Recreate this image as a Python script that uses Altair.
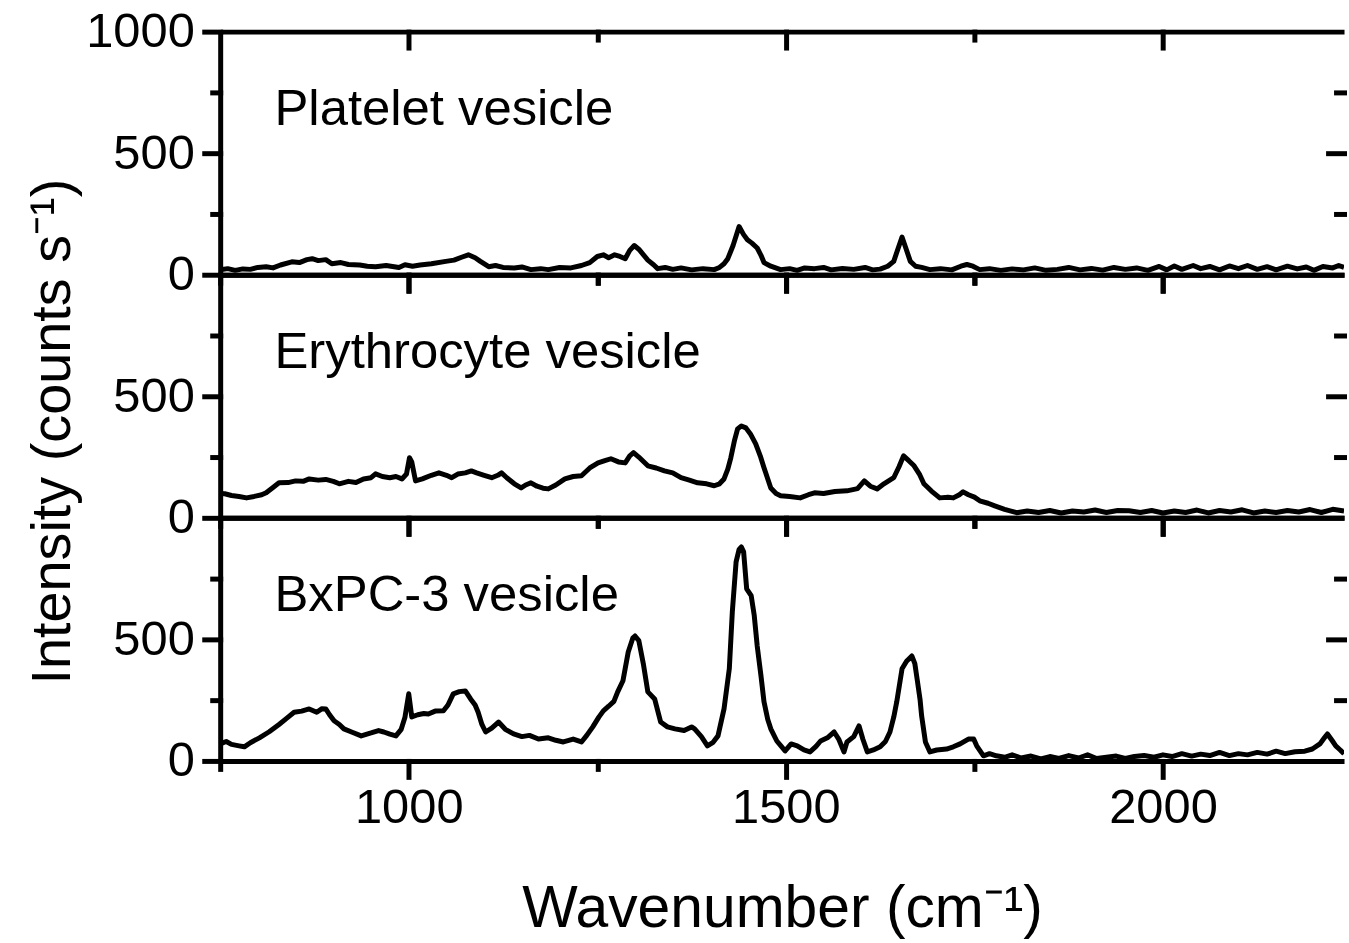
import altair as alt
import pandas as pd

FONT = "Liberation Sans"

# ---------------- data ----------------
wn_platelet = [750, 760, 770, 780, 790, 800, 811, 820, 830, 845, 855, 865, 872, 880, 890, 898, 910, 920, 935, 945,
               956, 970, 987, 995, 1005, 1015, 1030, 1049, 1060, 1070, 1079, 1088, 1095, 1106, 1115, 1125, 1140, 1150,
               1162, 1175, 1185, 1200, 1215, 1229, 1240, 1250, 1258, 1265, 1273, 1280, 1287, 1293, 1299, 1305, 1317,
               1325, 1330, 1340, 1350, 1361, 1375, 1390, 1405, 1412, 1418, 1423, 1430, 1438, 1444, 1449, 1455, 1462,
               1467, 1471, 1480, 1493, 1505, 1515, 1525, 1538, 1550, 1560, 1575, 1590, 1605, 1615, 1625, 1635, 1643,
               1649, 1654, 1659, 1665, 1672, 1680, 1691, 1705, 1720, 1732, 1740, 1748, 1757, 1770, 1785, 1800, 1815,
               1830, 1845, 1860, 1875, 1890, 1905, 1920, 1935, 1950, 1965, 1980, 1995, 2005, 2015, 2025, 2040, 2050,
               2062, 2075, 2088, 2100, 2112, 2125, 2138, 2150, 2165, 2178, 2190, 2200, 2212, 2225, 2233, 2240]
int_platelet = [20, 25, 18, 24, 22, 30, 33, 28, 40, 53, 50, 62, 66, 58, 62, 45, 50, 42, 40, 35,
                33, 38, 30, 41, 35, 40, 45, 55, 60, 72, 82, 70, 55, 33, 38, 30, 28, 32,
                21, 25, 21, 30, 28, 38, 50, 75, 82, 70, 82, 75, 66, 100, 120, 105, 60,
                40, 25, 30, 22, 28, 20, 25, 21, 30, 45, 66, 120, 198, 165, 144, 130, 110,
                80, 50, 35, 21, 25, 18, 28, 25, 30, 20, 26, 22, 30, 20, 23, 35, 55,
                110, 155, 110, 55, 35, 30, 21, 25, 20, 35, 42, 35, 21, 25, 18, 24, 20,
                28, 18, 22, 30, 20, 26, 19, 30, 22, 28, 18, 34, 20, 36, 22, 38, 25,
                34, 20, 36, 25, 38, 22, 33, 20, 35, 24, 32, 18, 34, 28, 38, 30]

wn_erythro = [750, 756, 765, 775, 785, 795, 805, 811, 820, 828, 840, 850, 860, 868, 880, 890, 900, 908, 920, 930,
              940, 950, 956, 965, 975, 983, 991, 997, 1001, 1004, 1009, 1018, 1030, 1040, 1050, 1057, 1065, 1075,
              1083, 1090, 1100, 1110, 1118, 1123, 1130, 1140, 1149, 1155, 1162, 1170, 1178, 1185, 1195, 1207, 1218,
              1229, 1240, 1251, 1260, 1268, 1278, 1287, 1293, 1298, 1305, 1317, 1328, 1339, 1350, 1361, 1372, 1383,
              1395, 1405, 1412, 1418, 1423, 1427, 1432, 1436, 1441, 1447, 1453, 1460, 1466, 1471, 1476, 1480, 1487,
              1493, 1505, 1519, 1530, 1538, 1550, 1565, 1581, 1595, 1604, 1612, 1621, 1630, 1643, 1650, 1656, 1663,
              1670, 1677, 1683, 1693, 1704, 1715, 1722, 1730, 1735, 1742, 1750, 1757, 1768, 1777, 1790, 1806, 1820,
              1835, 1850, 1865, 1880, 1895, 1910, 1925, 1940, 1955, 1970, 1985, 2000, 2015, 2030, 2045, 2060, 2075,
              2090, 2105, 2120, 2135, 2150, 2165, 2180, 2195, 2210, 2225, 2240]
int_erythro = [100, 99, 92, 88, 82, 88, 95, 103, 125, 144, 145, 152, 150, 160, 155, 158, 150, 140, 150, 145,
               160, 165, 181, 170, 165, 170, 160, 180, 247, 230, 152, 160, 175, 185, 175, 165, 180, 185,
               193, 185, 175, 165, 175, 185, 165, 140, 123, 135, 144, 130, 122, 119, 135, 160, 170,
               173, 205, 226, 235, 243, 230, 226, 255, 268, 250, 214, 205, 193, 185, 165, 155, 144,
               140, 132, 140, 160, 200, 247, 320, 366, 378, 370, 345, 304, 255, 206, 160, 123, 100,
               91, 88, 82, 95, 103, 100, 108, 111, 120, 152, 130, 119, 140, 165, 210, 255, 235,
               214, 180, 140, 110, 82, 85, 82, 95, 107, 95, 85, 70, 60, 49, 35, 21, 28,
               22, 30, 20, 28, 24, 32, 22, 30, 29, 22, 30, 20, 28, 22, 32, 20, 30,
               24, 33, 20, 28, 22, 30, 24, 34, 22, 35, 28]

wn_bxpc3 = [750, 758, 765, 775, 782, 790, 802, 815, 828, 838, 848, 858, 868, 878, 885, 890, 895, 901, 908, 914,
            925, 937, 950, 960, 967, 975, 983, 990, 995, 1000, 1004, 1012, 1020, 1026, 1035, 1046, 1052, 1059,
            1067, 1075, 1082, 1088, 1092, 1097, 1102, 1110, 1119, 1128, 1139, 1150, 1160, 1172, 1185, 1195, 1205,
            1218, 1229, 1236, 1244, 1252, 1258, 1265, 1272, 1277, 1284, 1291, 1297, 1300, 1305, 1311, 1317, 1326,
            1334, 1343, 1353, 1365, 1375, 1379, 1388, 1396, 1403, 1410, 1418, 1425, 1429, 1434, 1438, 1441, 1444,
            1448, 1454, 1458, 1462, 1467, 1471, 1476, 1480, 1488, 1494, 1499, 1507, 1515, 1524, 1532, 1540, 1546,
            1555, 1564, 1570, 1577, 1581, 1590, 1597, 1602, 1608, 1616, 1625, 1632, 1638, 1643, 1647, 1654, 1660,
            1667, 1671, 1674, 1678, 1680, 1685, 1691, 1700, 1713, 1722, 1731, 1742, 1749, 1753, 1762, 1770, 1779,
            1790, 1800, 1812, 1825, 1838, 1850, 1862, 1875, 1888, 1900, 1912, 1925, 1938, 1950, 1962, 1975, 1988,
            2000, 2012, 2025, 2038, 2050, 2062, 2075, 2088, 2100, 2112, 2125, 2138, 2150, 2162, 2175, 2188, 2198,
            2208, 2214, 2218, 2224, 2229, 2235, 2240]
int_bxpc3 = [70, 80, 68, 62, 58, 75, 95, 120, 150, 175, 200, 205, 214, 200, 215, 214, 190, 165, 150, 132,
             118, 103, 115, 125, 119, 110, 103, 130, 180, 276, 181, 190, 195, 193, 205, 206, 230, 276,
             285, 288, 255, 230, 200, 150, 119, 135, 160, 130, 111, 100, 105, 90, 95, 85, 78,
             90, 78, 105, 140, 180, 206, 225, 245, 284, 330, 448, 505, 514, 495, 400, 284, 255,
             160, 140, 132, 125, 140, 132, 100, 62, 75, 103, 214, 379, 613, 819, 870, 880, 860,
             708, 680, 600, 473, 350, 243, 170, 132, 82, 60, 41, 70, 62, 45, 37, 60, 82,
             95, 119, 90, 37, 78, 100, 144, 90, 37, 45, 58, 80, 119, 180, 243, 379, 410,
             432, 400, 337, 250, 185, 78, 37, 45, 49, 58, 70, 90, 90, 62, 21, 30, 21,
             15, 25, 12, 20, 8, 18, 10, 22, 12, 25, 10, 15, 20, 10, 18, 22, 15,
             25, 18, 30, 20, 28, 22, 35, 22, 30, 25, 35, 28, 40, 30, 38, 40, 49,
             70, 95, 111, 85, 62, 45, 29]

panel_names = ["Platelet vesicle", "Erythrocyte vesicle", "BxPC-3 vesicle"]
label_x = [822, 822, 822]
label_y = [615, 615, 615]

x_major = [1000, 1500, 2000]
x_minor = [750, 1250, 1750]
XDOM = [750, 2240]
YDOM = [0, 1000]

W = 1128
H = 244


def ax(**kw):
    base = dict(grid=False, labelFont=FONT, labelColor="black", titleFont=FONT, titleColor="black",
                titleFontWeight="normal", tickColor="black", tickWidth=5, domainColor="black",
                domainWidth=5, tickCap="square", format="d")
    base.update(kw)
    return alt.Axis(**base)


def make_panel(i):
    name = panel_names[i]
    wn, it = [(wn_platelet, int_platelet), (wn_erythro, int_erythro), (wn_bxpc3, int_bxpc3)][i]
    df = pd.DataFrame({"x": wn, "y": it})
    first = i == 0
    last = i == 2
    xs = alt.Scale(domain=XDOM, nice=False, zero=False)
    ys = alt.Scale(domain=YDOM, nice=False, zero=False)

    # main spectrum with bottom/left major axes
    xkw = dict(orient="bottom", values=x_major, tickSize=16, domain=True, labels=last,
               labelFontSize=49, labelPadding=7)
    if last:
        xkw.update(titleFontSize=59, titleBaseline="alphabetic", titleY=166)
    ykw = dict(orient="left", values=([0, 500, 1000] if first else [0, 500]), tickSize=16, domain=True,
               labelFontSize=49, labelPadding=10)
    if i == 1:
        ykw.update(titleFontSize=56, titleAngle=270, titleX=-151, titleY=157, titleAlign="center",
                   titleBaseline="alphabetic")
    line = alt.Chart(df).mark_line(color="black", strokeWidth=5, clip=True, strokeJoin="round").encode(
        x=alt.X("x:Q", scale=xs, axis=ax(**xkw), title=("Wavenumber (cm⁻¹)" if last else None)),
        y=alt.Y("y:Q", scale=ys, axis=ax(**ykw), title=("Intensity (counts s⁻¹)" if i == 1 else None)),
    )

    inv = alt.Chart(df).mark_point(opacity=0, size=1)

    minor_out = inv.encode(
        x=alt.X("x:Q", scale=xs, title=None,
                axis=ax(orient="bottom", values=x_minor, tickSize=8, domain=False, labels=False)),
        y=alt.Y("y:Q", scale=ys, title=None,
                axis=ax(orient="left", values=[250, 750], tickSize=8, domain=False, labels=False)),
    )
    major_in = inv.encode(
        x=alt.X("x:Q", scale=xs, title=None,
                axis=ax(orient="top", values=x_major, tickSize=16, offset=-16, domain=False, labels=False)),
        y=alt.Y("y:Q", scale=ys, title=None,
                axis=ax(orient="right", values=[500], tickSize=16, offset=-16, domain=False, labels=False)),
    )
    minor_in = inv.encode(
        x=alt.X("x:Q", scale=xs, title=None,
                axis=ax(orient="top", values=[1250, 1750], tickSize=8, offset=-8, domain=False, labels=False)),
        y=alt.Y("y:Q", scale=ys, title=None,
                axis=ax(orient="right", values=[250, 750], tickSize=8, offset=-8, domain=False, labels=False)),
    )
    top_border = inv.encode(
        x=alt.X("x:Q", scale=xs, title=None,
                axis=ax(orient="top", values=x_major, ticks=False, domain=True, labels=False)),
        y=alt.Y("y:Q", scale=ys, axis=None),
    )

    lab_df = pd.DataFrame({"x": [label_x[i]], "y": [label_y[i]], "t": [name]})
    text = alt.Chart(lab_df).mark_text(align="left", baseline="alphabetic", font=FONT, fontSize=51,
                                       color="black").encode(
        x=alt.X("x:Q", scale=xs, axis=None),
        y=alt.Y("y:Q", scale=ys, axis=None),
        text="t:N",
    )

    return alt.layer(line, minor_out, major_in, minor_in, top_border, text).resolve_axis(
        x="independent", y="independent").properties(width=W, height=H)


chart = alt.vconcat(make_panel(0), make_panel(1), make_panel(2), spacing=0, bounds="flush").properties(
    padding={"left": 24, "top": 5, "right": 0, "bottom": 0},
    background="white",
).configure_view(stroke="transparent")

chart.save("out.html", embed_options={"renderer": "svg", "actions": False})
